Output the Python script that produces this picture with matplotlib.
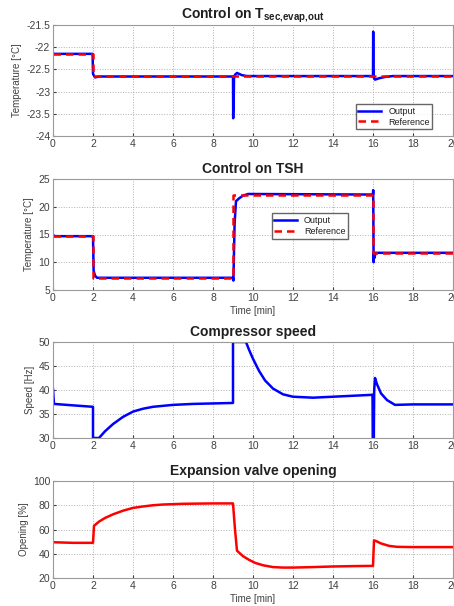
import matplotlib.pyplot as plt

plt.rcParams['font.family'] = 'Liberation Sans'
plt.rcParams['mathtext.fontset'] = 'custom'
plt.rcParams['mathtext.rm'] = 'Liberation Sans'
plt.rcParams['mathtext.bf'] = 'Liberation Sans:bold'
plt.rcParams['axes.edgecolor'] = '#9a9a9a'
plt.rcParams['axes.linewidth'] = 0.8
plt.rcParams['xtick.color'] = '#404040'
plt.rcParams['ytick.color'] = '#404040'
plt.rcParams['text.color'] = '#202020'

# Plot 1: control on T_sec,evap,out
t1_out = [0, 1.98, 2.0, 2.1, 2.3, 9.0, 9.01, 9.02, 9.03, 9.05, 9.1, 9.2, 9.3, 9.45, 9.7,
          16.0, 16.01, 16.02, 16.05, 16.1, 16.3, 16.6, 17.0, 20]
y1_out = [-22.15, -22.15, -22.6, -22.68, -22.66, -22.66, -23.6, -22.9, -23.4, -22.7, -22.62,
          -22.58, -22.6, -22.63, -22.65, -22.65, -21.65, -22.5, -22.7, -22.73, -22.7, -22.67,
          -22.65, -22.65]
t1_ref = [0, 2.0, 2.0, 20]
y1_ref = [-22.15, -22.15, -22.65, -22.65]

# Plot 2: control on TSH
t2_out = [0, 0.05, 2.0, 2.03, 2.1, 2.2, 9.0, 9.02, 9.08, 9.15, 9.3, 9.5, 9.75, 16.0, 16.01,
          16.03, 16.05, 16.08, 16.12, 20]
y2_out = [15.0, 14.7, 14.7, 8.5, 7.6, 7.2, 7.2, 6.7, 17.0, 21.0, 21.5, 22.0, 22.3, 22.2,
          23.0, 10.0, 11.8, 10.8, 11.7, 11.7]
t2_ref = [0, 2.0, 2.0, 9.0, 9.0, 16.0, 16.0, 20]
y2_ref = [14.7, 14.7, 7.2, 7.2, 22.2, 22.2, 11.7, 11.7]

# Plot 3: compressor speed
t3 = [0, 0.05, 1.0, 2.0, 2.0, 2.3, 2.6, 3.0, 3.5, 4.0, 4.5, 5.0, 6.0, 7.0, 8.0, 9.0,
      9.0, 9.65, 9.8, 10.0, 10.3, 10.6, 11.0, 11.5, 12.0, 13.0, 14.0, 15.0, 15.98,
      16.0, 16.01, 16.02, 16.03, 16.04, 16.06, 16.1, 16.2, 16.4, 16.7, 17.1, 18.0, 20]
y3 = [40.2, 37.1, 36.8, 36.5, 30.0, 30.0, 31.4, 32.9, 34.4, 35.5, 36.1, 36.5, 36.9, 37.1,
      37.2, 37.3, 50.0, 50.0, 48.4, 46.5, 44.0, 42.0, 40.3, 39.1, 38.6, 38.4, 38.6, 38.8,
      39.0, 30.0, 39.0, 30.0, 38.5, 30.0, 40.0, 42.5, 41.2, 39.3, 37.9, 36.9, 37.0, 37.0]

# Plot 4: expansion valve opening
t4 = [0, 1.0, 2.0, 2.05, 2.3, 2.6, 3.0, 3.5, 4.0, 4.5, 5.0, 5.5, 6.5, 8.0, 9.0, 9.1,
      9.2, 9.5, 9.8, 10.1, 10.5, 11.0, 11.5, 12.0, 13.0, 14.0, 15.0, 16.0, 16.05, 16.15,
      16.4, 16.8, 17.2, 18.0, 20]
y4 = [49.5, 49.0, 49.0, 63.0, 66.5, 69.5, 72.5, 75.5, 77.8, 79.0, 80.0, 80.6, 81.2, 81.5,
      81.5, 60.0, 42.5, 38.0, 35.0, 32.5, 30.5, 29.0, 28.6, 28.6, 29.0, 29.5, 29.8, 30.0,
      51.0, 50.5, 48.5, 46.5, 45.7, 45.5, 45.5]

fig = plt.figure(figsize=(4.54, 6.06), dpi=100)

left, width = 53 / 454, 400 / 454
ax1 = fig.add_axes([left, 1 - 136 / 606, width, 111 / 606])
ax2 = fig.add_axes([left, 1 - 290 / 606, width, 111 / 606])
ax3 = fig.add_axes([left, 1 - 438 / 606, width, 96 / 606])
ax4 = fig.add_axes([left, 1 - 578 / 606, width, 97 / 606])

tick_fs = 7.5
title_fs = 10

ax1.plot(t1_out, y1_out, color='#0000ff', linewidth=1.8, label='Output')
ax1.plot(t1_ref, y1_ref, color='#ff0000', linewidth=1.8, linestyle=(0, (3, 2)), label='Reference')
ax1.set_ylim(-24, -21.5)
ax1.set_yticks([-24, -23.5, -23, -22.5, -22, -21.5])
ax1.set_yticklabels(['-24', '-23.5', '-23', '-22.5', '-22', '-21.5'])
ax1.set_title(r'Control on T$_{\mathbf{sec{,}evap{,}out}}$', fontsize=title_fs, fontweight='bold', pad=4)
ax1.set_ylabel('Temperature [°C]', fontsize=7, labelpad=3)
ax1.legend(loc='lower right', fontsize=6.5, frameon=True, fancybox=False, edgecolor='#404040',
           handlelength=2.5, borderpad=0.3, labelspacing=0.2, bbox_to_anchor=(0.96, 0.02))

ax2.plot(t2_out, y2_out, color='#0000ff', linewidth=1.8, label='Output')
ax2.plot(t2_ref, y2_ref, color='#ff0000', linewidth=1.8, linestyle=(0, (3, 2)), label='Reference')
ax2.set_ylim(5, 25)
ax2.set_yticks([5, 10, 15, 20, 25])
ax2.set_title('Control on TSH', fontsize=title_fs, fontweight='bold', pad=4)
ax2.set_ylabel('Temperature [°C]', fontsize=7, labelpad=3)
ax2.set_xlabel('Time [min]', fontsize=7, labelpad=2)
ax2.legend(loc='upper left', fontsize=6.5, frameon=True, fancybox=False, edgecolor='#404040',
           handlelength=2.5, borderpad=0.3, labelspacing=0.2, bbox_to_anchor=(0.535, 0.73))

ax3.plot(t3, y3, color='#0000ff', linewidth=1.8)
ax3.set_ylim(30, 50)
ax3.set_yticks([30, 35, 40, 45, 50])
ax3.set_title('Compressor speed', fontsize=title_fs, fontweight='bold', pad=4)
ax3.set_ylabel('Speed [Hz]', fontsize=7, labelpad=3)

ax4.plot(t4, y4, color='#ff0000', linewidth=1.8)
ax4.set_ylim(20, 100)
ax4.set_yticks([20, 40, 60, 80, 100])
ax4.set_title('Expansion valve opening', fontsize=title_fs, fontweight='bold', pad=4)
ax4.set_ylabel('Opening [%]', fontsize=7, labelpad=3)
ax4.set_xlabel('Time [min]', fontsize=7, labelpad=2)

for ax in (ax1, ax2, ax3, ax4):
    ax.set_xlim(0, 20)
    ax.set_xticks(range(0, 21, 2))
    ax.tick_params(labelsize=tick_fs, direction='in', length=2, pad=2)
    ax.grid(True, linestyle=':', color='#b0b0b0', linewidth=0.7)
    ax.yaxis.label.set_color('#404040')
    ax.xaxis.label.set_color('#404040')

fig.savefig('out.png', dpi=100)
